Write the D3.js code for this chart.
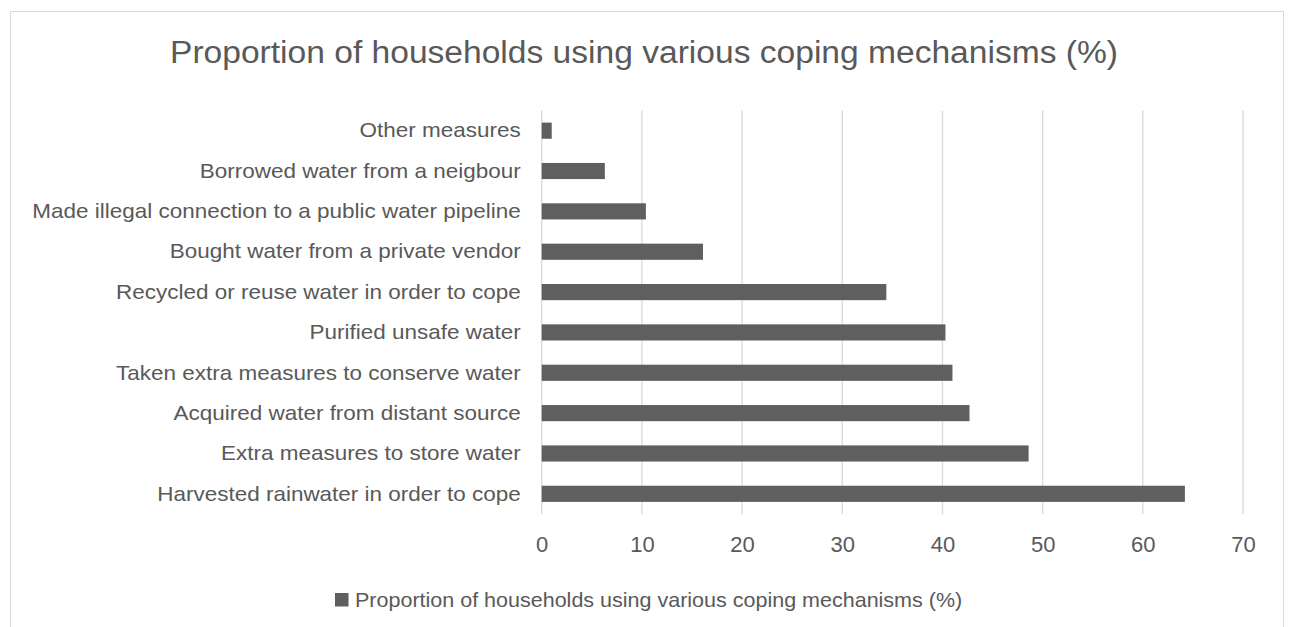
<!DOCTYPE html>
<html>
<head>
<meta charset="utf-8">
<script src="https://cdn.jsdelivr.net/npm/d3@7"></script>
<style>
  body { margin: 0; background: #fff; }
  svg { display: block; font-family: "Liberation Sans", Arial, sans-serif; }
</style>
</head>
<body>
<svg id="drawing_region"></svg>
<script>
// categories top to bottom as shown
const categories = [
    "Other measures",
    "Borrowed water from a neigbour",
    "Made illegal connection to a public water pipeline",
    "Bought water from a private vendor",
    "Recycled or reuse water in order to cope",
    "Purified unsafe water",
    "Taken extra measures to conserve water",
    "Acquired water from distant source",
    "Extra measures to store water",
    "Harvested rainwater in order to cope"
];
const values = [1.0, 6.3, 10.4, 16.1, 34.4, 40.3, 41.0, 42.7, 48.6, 64.2];
const xticks = [0, 10, 20, 30, 40, 50, 60, 70];
const title = "Proportion of households using various coping mechanisms (%)";
const series_name = "Proportion of households using various coping mechanisms (%)";

const width = 1289, height = 627;
const plot = {left: 541.7, right: 1243, top: 110.5, bottom: 514};
const text_color = "#595959";
const bar_color = "#5f5f5f";

// the original font is a bit wider than Liberation Sans
function widen(sel, factor) {
    sel.each(function() {
        const len = this.getComputedTextLength();
        d3.select(this)
            .attr('textLength', len * factor)
            .attr('lengthAdjust', "spacingAndGlyphs");
    });
}

const svg = d3.select('#drawing_region')
    .attr('width', width)
    .attr('height', height);

// chart border
svg.append('rect')
    .attr('x', 10.5)
    .attr('y', 11.5)
    .attr('width', 1273)
    .attr('height', 630)
    .attr('fill', "white")
    .attr('stroke', "#d9d9d9")
    .attr('stroke-width', 1);

const xscale = d3.scaleLinear()
    .domain([0, 70])
    .range([plot.left, plot.right]);

const yscale = d3.scaleBand()
    .domain(categories)
    .range([plot.top, plot.bottom])
    .paddingInner(0.6)
    .paddingOuter(0.3);

// gridlines
svg.append('g')
    .selectAll('line')
    .data(xticks)
    .join('line')
    .attr('x1', d => xscale(d))
    .attr('x2', d => xscale(d))
    .attr('y1', plot.top)
    .attr('y2', plot.bottom)
    .attr('stroke', "#d9d9d9")
    .attr('stroke-width', 1.3);

// bars
svg.append('g')
    .selectAll('rect')
    .data(values)
    .join('rect')
    .attr('x', xscale(0))
    .attr('y', (d, i) => yscale(categories[i]))
    .attr('width', d => xscale(d) - xscale(0))
    .attr('height', yscale.bandwidth())
    .attr('fill', bar_color);

// x axis labels
const xaxis = d3.axisBottom(xscale)
    .tickValues(xticks)
    .tickSize(0)
    .tickPadding(0);

const xaxis_group = svg.append('g')
    .attr('transform', `translate(0, ${plot.bottom})`)
    .call(xaxis);
xaxis_group.select('.domain').remove();
xaxis_group.selectAll('text')
    .attr('y', 31)
    .attr('dy', "0.32em")
    .attr('fill', text_color)
    .attr('font-size', "22px")
    .attr('font-family', "Liberation Sans, Arial, sans-serif");

// category labels
const yaxis = d3.axisLeft(yscale)
    .tickSize(0)
    .tickPadding(21);

const yaxis_group = svg.append('g')
    .attr('transform', `translate(${plot.left}, 0)`)
    .call(yaxis);
yaxis_group.select('.domain').remove();
yaxis_group.selectAll('text')
    .attr('fill', text_color)
    .attr('font-size', "21px")
    .attr('font-family', "Liberation Sans, Arial, sans-serif")
    .call(widen, 1.07);

// title
svg.append('text')
    .attr('x', 644)
    .attr('y', 63)
    .attr('text-anchor', "middle")
    .attr('fill', text_color)
    .attr('font-size', "31px")
    .text(title)
    .call(widen, 1.083);

// legend
const legend = svg.append('g')
    .attr('transform', "translate(335, 593)");
legend.append('rect')
    .attr('width', 13.5)
    .attr('height', 13.5)
    .attr('fill', bar_color);
legend.append('text')
    .attr('x', 20)
    .attr('y', 13.5)
    .attr('fill', text_color)
    .attr('font-size', "21px")
    .text(series_name)
    .call(widen, 1.024);
</script>
</body>
</html>
